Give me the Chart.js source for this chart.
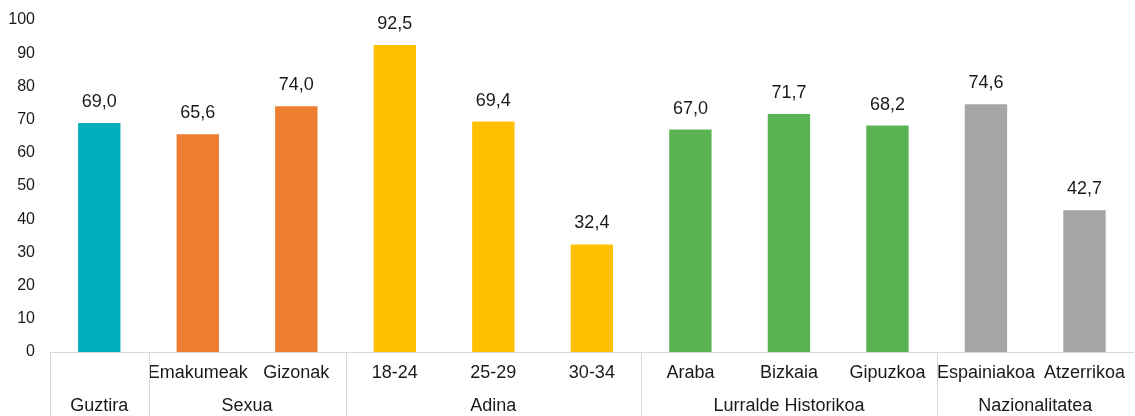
<!DOCTYPE html>
<html>
<head>
<meta charset="utf-8">
<script src="https://cdn.jsdelivr.net/npm/chart.js@4/dist/chart.umd.min.js"></script>
<style>
  html, body { margin: 0; padding: 0; background: #fff; }
  #wrap { width: 1135px; height: 416px; }
</style>
</head>
<body>
<div id="wrap"><canvas id="chart"></canvas></div>
<script>
const categories = ['Guztira', 'Emakumeak', 'Gizonak', '18-24', '25-29', '30-34', 'Araba', 'Bizkaia', 'Gipuzkoa', 'Espainiakoa', 'Atzerrikoa'];
const values = [69.0, 65.6, 74.0, 92.5, 69.4, 32.4, 67.0, 71.7, 68.2, 74.6, 42.7];
const groups = ['Guztira', 'Sexua', 'Adina', 'Lurralde Historikoa', 'Nazionalitatea'];
const groupSizes = [1, 2, 3, 3, 2];
const groupColors = ['#00AEBD', '#ED7D31', '#FFC000', '#59B352', '#A5A5A5'];

const barColors = [];
groupSizes.forEach((n, g) => { for (let i = 0; i < n; i++) barColors.push(groupColors[g]); });

const FONT = '"Liberation Sans", Arial, sans-serif';
const fmt = v => v.toFixed(1).replace('.', ',');

// value labels above the bars
const valueLabels = {
  id: 'valueLabels',
  afterDatasetsDraw(chart) {
    const ctx = chart.ctx;
    const meta = chart.getDatasetMeta(0);
    ctx.save();
    ctx.font = '18px ' + FONT;
    ctx.fillStyle = '#1a1a1a';
    ctx.textAlign = 'center';
    ctx.textBaseline = 'middle';
    meta.data.forEach((bar, i) => {
      ctx.fillText(fmt(values[i]), bar.x, bar.y - 21);
    });
    ctx.restore();
  }
};

// group labels and separators under the category axis
const groupAxis = {
  id: 'groupAxis',
  afterDraw(chart) {
    const ctx = chart.ctx;
    const x = chart.scales.x;
    const area = chart.chartArea;
    const half = (x.getPixelForValue(1) - x.getPixelForValue(0)) / 2;
    ctx.save();
    ctx.strokeStyle = '#d9d9d9';
    ctx.lineWidth = 1;
    ctx.font = '18px ' + FONT;
    ctx.fillStyle = '#1a1a1a';
    ctx.textAlign = 'center';
    ctx.textBaseline = 'middle';
    let start = 0;
    groupSizes.forEach((n, g) => {
      const left = x.getPixelForValue(start) - half;
      const right = x.getPixelForValue(start + n - 1) + half;
      const lx = Math.round(left) + 0.5;
      ctx.beginPath();
      ctx.moveTo(lx, area.bottom);
      ctx.lineTo(lx, chart.height);
      ctx.stroke();
      ctx.fillText(groups[g], (left + right) / 2, area.bottom + 54);
      start += n;
    });
    ctx.restore();
  }
};

new Chart(document.getElementById('chart'), {
  type: 'bar',
  data: {
    labels: categories,
    datasets: [{
      data: values,
      backgroundColor: barColors,
      categoryPercentage: 1,
      barPercentage: 0.43
    }]
  },
  options: {
    responsive: true,
    maintainAspectRatio: false,
    animation: false,
    layout: { padding: { top: 20, right: 0, left: 0, bottom: 0 } },
    plugins: {
      legend: { display: false },
      tooltip: { enabled: false }
    },
    scales: {
      y: {
        min: 0,
        max: 100,
        ticks: {
          stepSize: 10,
          color: '#1a1a1a',
          font: { family: FONT, size: 16 },
          padding: 15
        },
        grid: { display: false, drawTicks: false },
        border: { display: false },
        afterFit(scale) {
          scale.width = 50;
          scale.paddingTop = 0;
          scale.paddingBottom = 0;
        }
      },
      x: {
        ticks: {
          color: '#1a1a1a',
          font: { family: FONT, size: 18 },
          padding: 10,
          maxRotation: 0,
          autoSkip: false,
          // "Guztira" only shows on the group row
          callback: (v, i) => (i === 0 ? '' : categories[i])
        },
        grid: { display: false, drawTicks: false },
        border: { display: true, color: '#d9d9d9', width: 1 },
        afterFit(scale) { scale.height = 64; }
      }
    }
  },
  plugins: [valueLabels, groupAxis]
});
</script>
</body>
</html>
